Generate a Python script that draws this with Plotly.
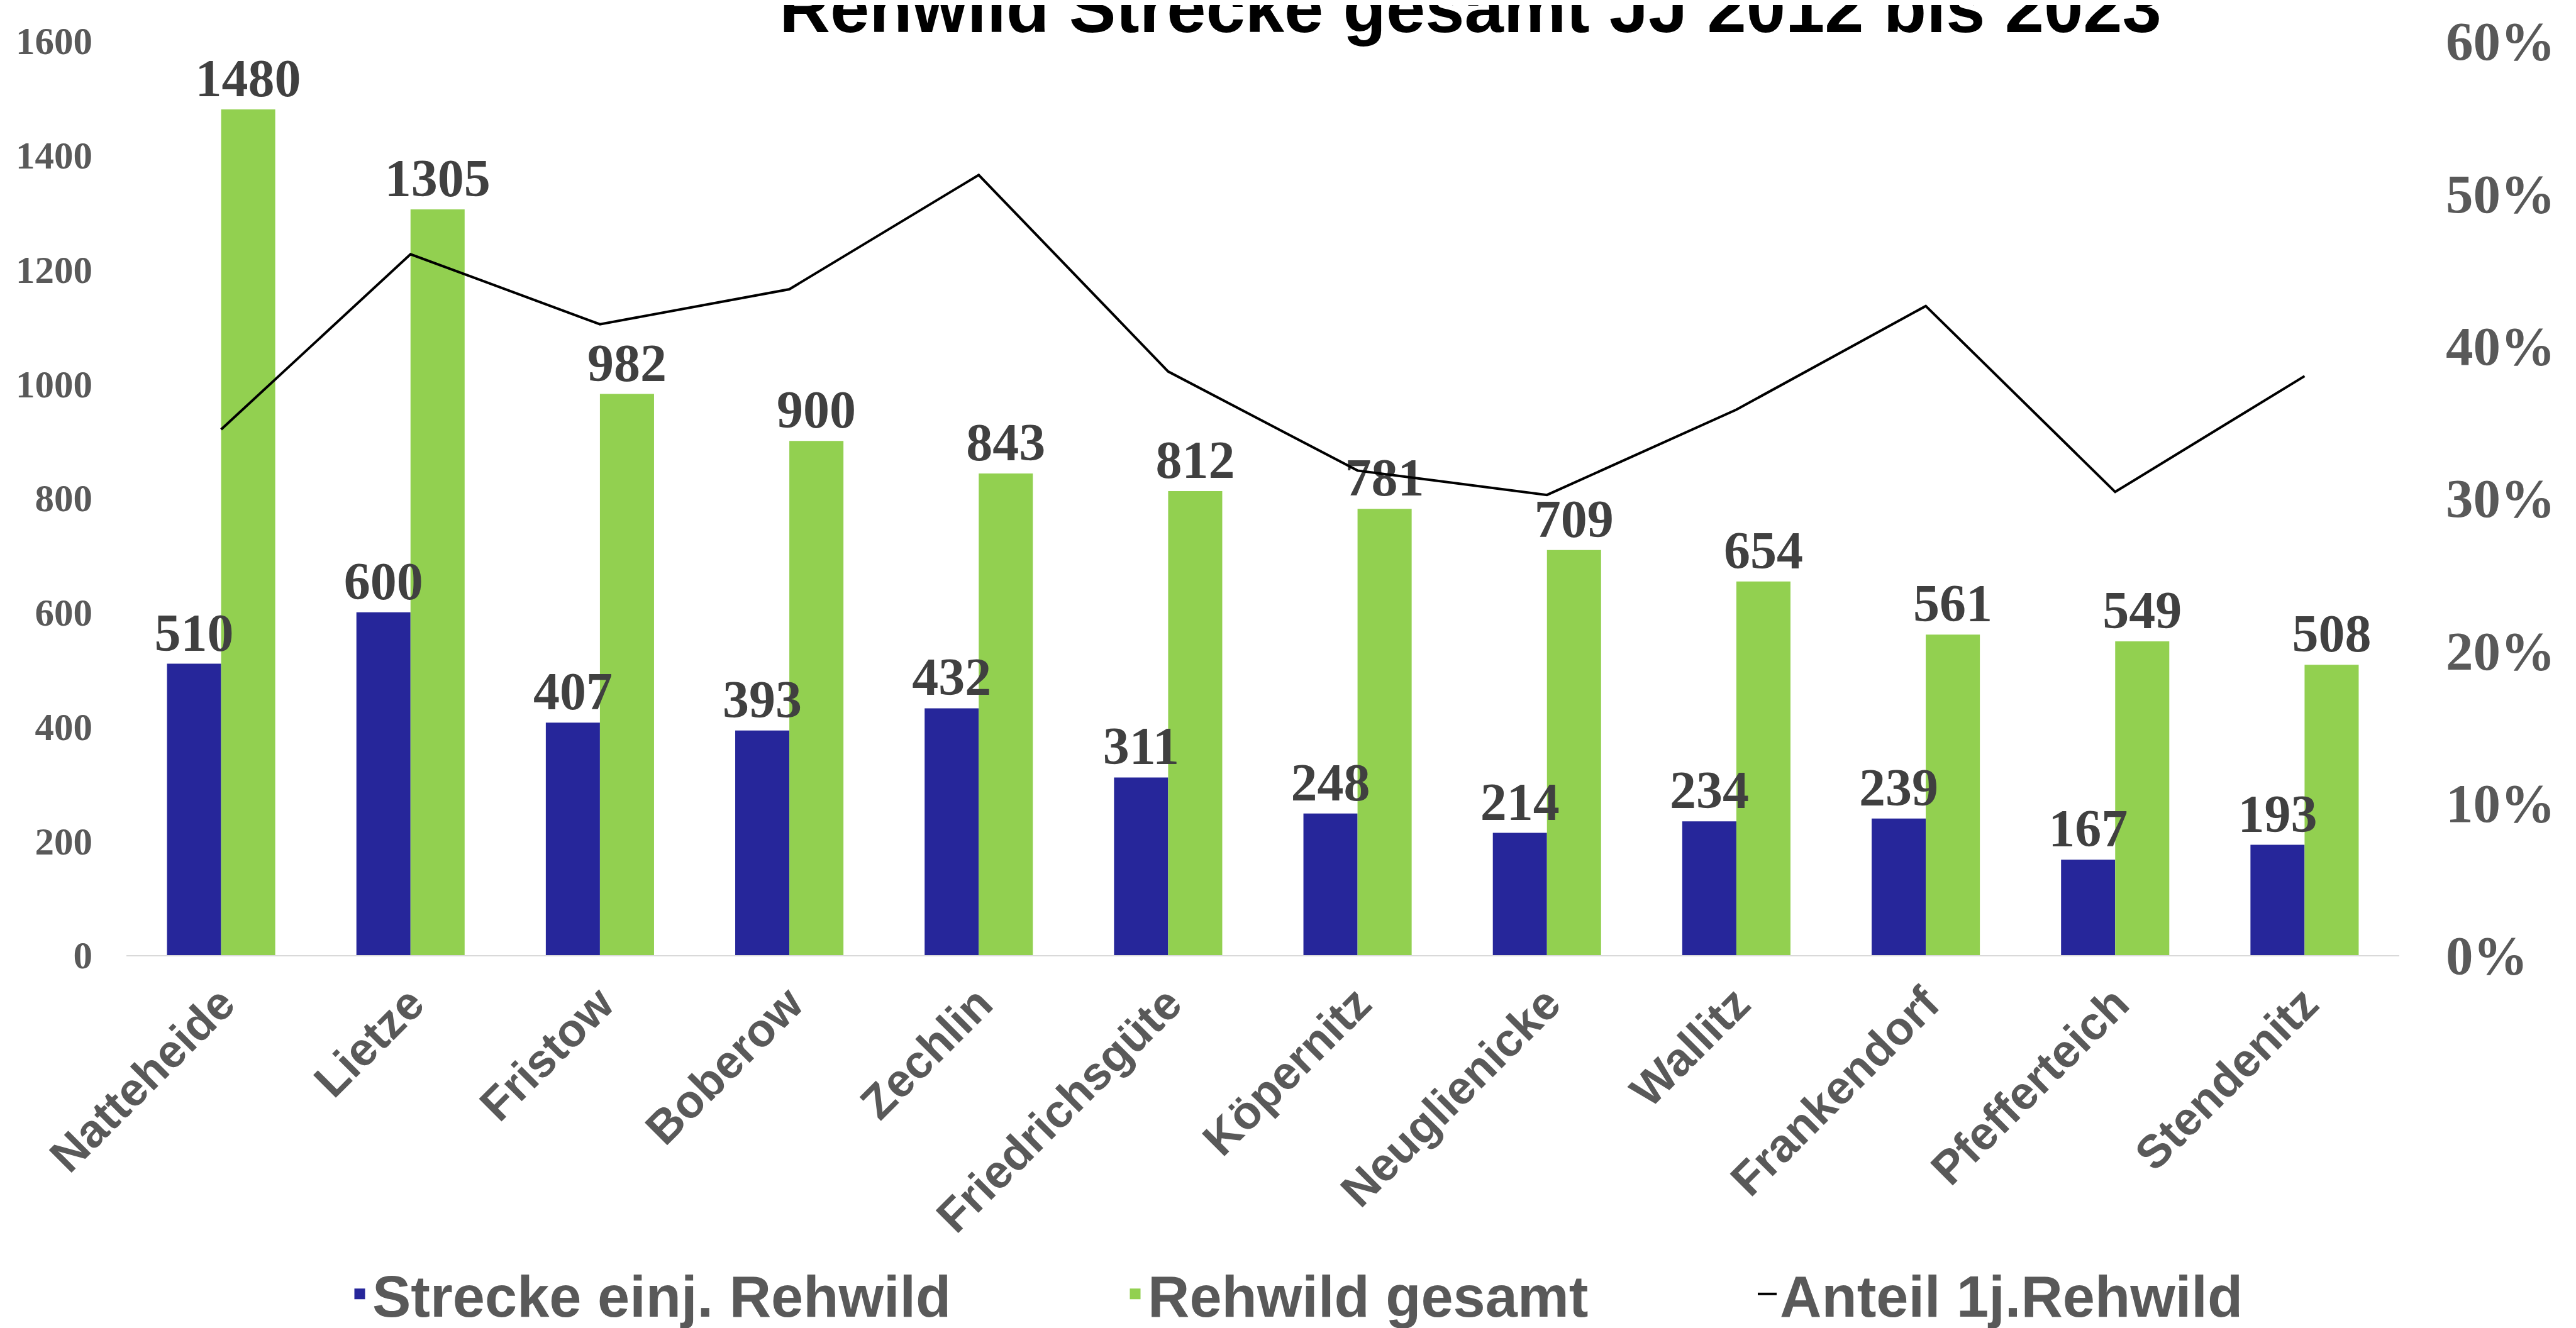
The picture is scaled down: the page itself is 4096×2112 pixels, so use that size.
import plotly.graph_objects as go

categories = ["Natteheide", "Lietze", "Fristow", "Boberow", "Zechlin", "Friedrichsgüte",
              "Köpernitz", "Neuglienicke", "Wallitz", "Frankendorf", "Pfefferteich", "Stendenitz"]
strecke_einj = [510, 600, 407, 393, 432, 311, 248, 214, 234, 239, 167, 193]
rehwild_gesamt = [1480, 1305, 982, 900, 843, 812, 781, 709, 654, 561, 549, 508]
anteil_1j = [0.345, 0.460, 0.414, 0.437, 0.512, 0.383, 0.318, 0.302, 0.358, 0.426, 0.304, 0.380]
series_names = ["Strecke einj. Rehwild", "Rehwild gesamt", "Anteil 1j.Rehwild"]

W, H = 4096, 2112
SANS = "Liberation Sans, Arial, sans-serif"
SERIF = "Liberation Serif, Times New Roman, serif"
GRAY = "#595959"
BLUE, GREEN = "#26269A", "#92D050"
BAR_W = 0.2857

label_font = dict(family=SERIF, size=84, color="#404040", weight="bold")

fig = go.Figure()
# bars
for vals, off, col in ((strecke_einj, -BAR_W, BLUE), (rehwild_gesamt, 0, GREEN)):
    fig.add_trace(go.Bar(
        x=categories, y=vals, showlegend=False,
        marker=dict(color=col, line=dict(width=0)),
        width=BAR_W, offset=off,
    ))
# data labels drawn on top of all bars
for vals, off in ((strecke_einj, -BAR_W), (rehwild_gesamt, 0)):
    fig.add_trace(go.Bar(
        x=categories, y=vals, showlegend=False, hoverinfo="skip",
        marker=dict(color="rgba(0,0,0,0)", line=dict(width=0)),
        width=BAR_W, offset=off,
        texttemplate="%{y}", textposition="outside", textangle=0,
        textfont=label_font, constraintext="none", cliponaxis=False,
    ))
# legend entries for the bar series (no visible marks, larger legend swatch)
for name, col, lg in ((series_names[0], BLUE, "legend"), (series_names[1], GREEN, "legend2")):
    fig.add_trace(go.Bar(
        x=[categories[0]], y=[None], name=name, hoverinfo="skip",
        marker=dict(color=col, line=dict(width=28, color=col)),
        width=BAR_W, offset=0, legend=lg,
    ))
fig.add_trace(go.Scatter(
    x=categories, y=anteil_1j, name=series_names[2], yaxis="y2",
    mode="lines", line=dict(color="#000000", width=4),
    legend="legend3",
))

leg_font = dict(family=SANS, size=92, color=GRAY, weight="bold")
def leg(xpx):
    return dict(xref="container", yref="container", x=xpx / W, y=1 - 2050 / H,
                xanchor="left", yanchor="middle", orientation="h",
                font=leg_font, bgcolor="rgba(0,0,0,0)", borderwidth=0)

fig.update_layout(
    width=W, height=H,
    margin=dict(l=193, r=289, t=57, b=601, autoexpand=False),
    paper_bgcolor="white", plot_bgcolor="white",
    barmode="overlay",
    title=dict(text="Rehwild Strecke gesamt JJ 2012 bis 2023",
               font=dict(family=SANS, size=112, color="#000000", weight="bold"),
               xref="container", yref="container", x=2330 / W, xanchor="center",
               y=0.998, yanchor="middle", automargin=False),
    xaxis=dict(showgrid=False, showline=True, linecolor="#D9D9D9", linewidth=2,
               ticks="", tickangle=-45, ticklabelstandoff=2,
               tickfont=dict(family=SANS, size=74, color=GRAY, weight="bold")),
    yaxis=dict(range=[0, 1600], dtick=200, showgrid=False, zeroline=False, showline=False,
               ticks="", ticklabelstandoff=53,
               tickfont=dict(family=SERIF, size=61, color=GRAY, weight="bold")),
    yaxis2=dict(range=[0, 0.6], dtick=0.1, tickformat=".0%", overlaying="y", side="right",
                showgrid=False, zeroline=False, showline=False, ticks="",
                ticklabelstandoff=73,
                tickfont=dict(family=SERIF, size=87, color=GRAY, weight="bold")),
    legend=leg(544),
    legend2=leg(1777),
    legend3=leg(2782),
    showlegend=True,
)

fig.write_html("out.html")
